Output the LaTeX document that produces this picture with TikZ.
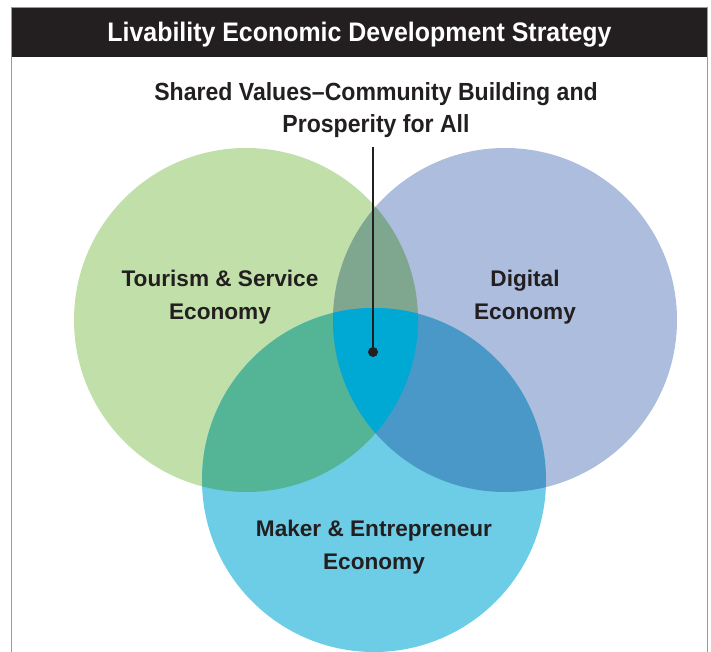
\documentclass[tikz,border=0pt]{standalone}
\usepackage{fontspec}
\setmainfont{Liberation Sans}
\newfontfamily\narrowfont[FakeStretch=0.93]{Liberation Sans}
\usetikzlibrary{positioning}

\definecolor{ink}{HTML}{231F20}
\definecolor{framegray}{HTML}{9A9A9A}
\definecolor{tourism}{HTML}{C1DFA9}
\definecolor{digital}{HTML}{ACBDDD}
\definecolor{maker}{HTML}{6DCDE6}
\definecolor{tourdig}{HTML}{7FA68F}
\definecolor{tourmaker}{HTML}{53B596}
\definecolor{digmaker}{HTML}{4A98C7}
\definecolor{shared}{HTML}{00A9D4}

\begin{document}
\begin{tikzpicture}[x=1pt, y=-1pt,
  label/.style={align=center, text=ink, font=\bfseries\fontsize{22.6}{33}\selectfont}]

\useasboundingbox (0,0) rectangle (711,652);

% frame and title bar
\fill[ink] (12,8) rectangle (707,57);
\draw[framegray, line width=1.2pt] (11.5,652) -- (11.5,7.5) -- (707.5,7.5) -- (707.5,652);
\node (title) at (359.5,35) [text=white, font=\narrowfont\bfseries\fontsize{26.8}{30}\selectfont]
{Livability Economic Development Strategy};

% the three circles
\coordinate (T) at (246,320);
\coordinate (D) at (505,320);
\coordinate (M) at (374,480);

\fill[tourism] (T) circle (172pt);
\fill[digital] (D) circle (172pt);
\fill[maker] (M) circle (172pt);

% overlaps
\begin{scope}
\clip (T) circle (172pt);
\fill[tourdig] (D) circle (172pt);
\fill[tourmaker] (M) circle (172pt);
\end{scope}
\begin{scope}
\clip (D) circle (172pt);
\fill[digmaker] (M) circle (172pt);
\clip (T) circle (172pt);
\fill[shared] (M) circle (172pt);
\end{scope}

\node (tourism) at (220,297) [label] {Tourism \& Service\\Economy};
\node (digital) at (525,297) [label] {Digital\\Economy};
\node (maker) at (374,547) [label] {Maker \& Entrepreneur\\Economy};

\node (values) at (376,110) [align=center, text=ink, font=\narrowfont\bfseries\fontsize{24.8}{32}\selectfont]
{Shared Values–Community Building and\\Prosperity for All};

\coordinate (dot) at (373,352);
\fill[ink] (dot) circle (5pt);
\draw[ink, line width=2pt] ([yshift=-6pt]dot |- values.south) -- (dot);

\end{tikzpicture}
\end{document}
